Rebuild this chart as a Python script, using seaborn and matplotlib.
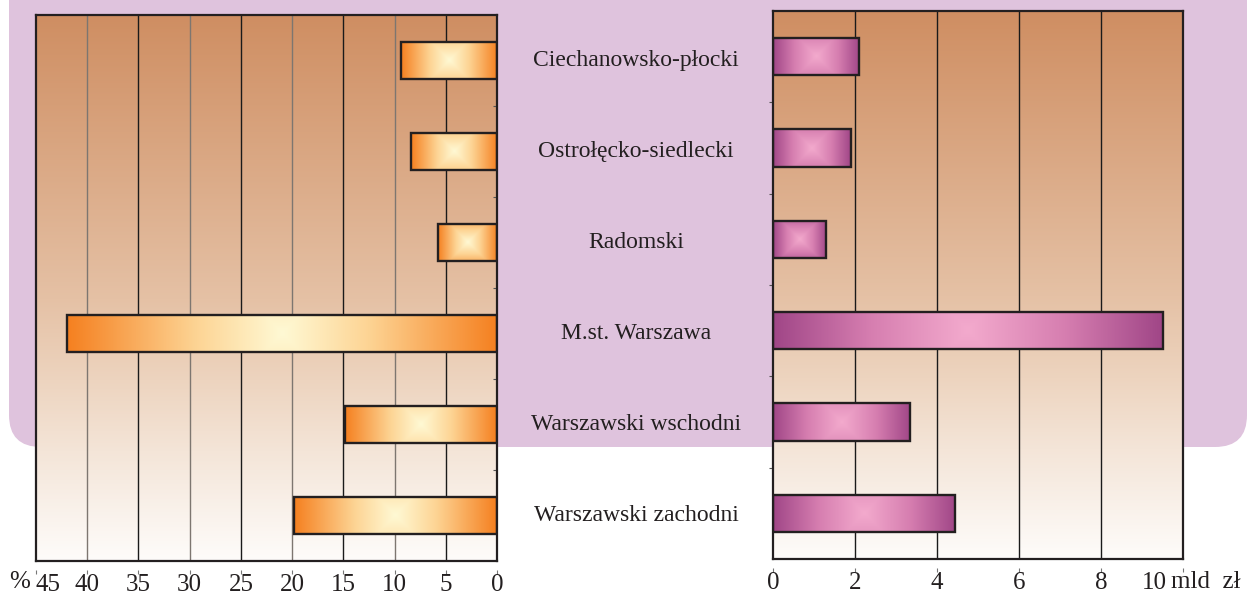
import numpy as np
import pandas as pd
import matplotlib
matplotlib.use("Agg")
import matplotlib.pyplot as plt
import matplotlib.transforms as mtrans
import seaborn as sns
from matplotlib.patches import FancyBboxPatch
from matplotlib.colors import LinearSegmentedColormap

# ---------------- data ----------------
regions = ["Ciechanowsko-płocki", "Ostrołęcko-siedlecki", "Radomski",
           "M.st. Warszawa", "Warszawski wschodni", "Warszawski zachodni"]
share_pct = [9.4, 8.4, 5.8, 42.0, 14.8, 19.8]
value_bln = [2.1, 1.9, 1.3, 9.5, 3.35, 4.45]
left_ticks = [45, 40, 35, 30, 25, 20, 15, 10, 5, 0]
right_ticks = [0, 2, 4, 6, 8, 10]
left_unit = "%"
right_unit = "mld  zł"

df = pd.DataFrame({"region": regions, "pct": share_pct, "bln": value_bln})

sns.set_theme(style="white")
plt.rcParams["font.family"] = ["Liberation Serif", "DejaVu Serif"]

W, H = 1247, 595
fig = plt.figure(figsize=(W / 100, H / 100), dpi=100)

# background lavender rounded panel
bg = fig.add_axes([0, 0, 1, 1], zorder=-5)
bg.set_xlim(0, W)
bg.set_ylim(H, 0)
bg.axis("off")
bg.add_patch(FancyBboxPatch((9, -80), W - 9, 447 + 80,
                            boxstyle="round,pad=0,rounding_size=32",
                            fc="#dfc3dd", ec="none"))


def fax(x0, y0, x1, y1):
    return fig.add_axes([x0 / W, 1 - y1 / H, (x1 - x0) / W, (y1 - y0) / H])


axL = fax(36, 15, 497, 561)
axR = fax(773, 11, 1183, 559)

bgcmap = LinearSegmentedColormap.from_list(
    "bgc",
    [(0.0, (207/255, 142/255, 98/255)),
     (0.52, (229/255, 193/255, 165/255)),
     (0.67, (237/255, 212/255, 191/255)),
     (0.80, (244/255, 229/255, 216/255)),
     (1.0, (254/255, 252/255, 250/255))])

orange = LinearSegmentedColormap.from_list(
    "or", [(0.0, (255/255, 249/255, 212/255)),
           (0.4, (253/255, 212/255, 148/255)),
           (1.0, (245/255, 128/255, 32/255))])
pink = LinearSegmentedColormap.from_list(
    "pk", [(0.0, (243/255, 170/255, 205/255)),
           (0.5, (214/255, 126/255, 176/255)),
           (1.0, (160/255, 70/255, 135/255))])


def style_axes(ax, data_col, xlim, ticks, cmap, gridcolors):
    sns.barplot(data=df, x=data_col, y="region", orient="h", ax=ax,
                width=0.41, color="white", edgecolor="#231f20",
                linewidth=1.7, zorder=3)
    ax.set_xlim(*xlim)
    ax.set_ylim(5.5, -0.5)
    # axes background gradient
    g = np.linspace(0, 1, 256).reshape(-1, 1)
    ax.imshow(g, cmap=bgcmap, extent=(0, 1, 0, 1), transform=ax.transAxes,
              aspect="auto", origin="upper", zorder=0)
    ax.set_xlim(*xlim)
    ax.set_ylim(5.5, -0.5)
    # gradient fill of bars
    for p in list(ax.patches):
        if p.get_height() == 0 or p.get_width() == 0:
            continue
        x0, y0 = p.get_x(), p.get_y()
        w, h = p.get_width(), p.get_height()
        c0 = ax.transData.transform((x0, y0))
        c1 = ax.transData.transform((x0 + w, y0 + h))
        wpx, hpx = abs(c1[0] - c0[0]), abs(c1[1] - c0[1])
        nx, ny = 400, 60
        u = np.linspace(-1, 1, nx)[None, :]
        v = np.linspace(-1, 1, ny)[:, None] * (hpx / wpx)
        t = np.clip(np.maximum(np.abs(u), np.abs(v)), 0, 1)
        img = cmap(t)
        im = ax.imshow(img, extent=(x0, x0 + w, y0 + h, y0), aspect="auto",
                       zorder=3.5, interpolation="bilinear")
        im.set_clip_path(p)
        p.set_facecolor("none")
        p.set_zorder(4)
    ax.set_xlim(*xlim)
    ax.set_ylim(5.5, -0.5)
    ax.set_xlabel("")
    ax.set_ylabel("")
    for s in ax.spines.values():
        s.set_visible(True)
        s.set_color("#231f20")
        s.set_linewidth(1.6)
        s.set_zorder(6)
    ax.set_xticks(ticks)
    ax.grid(axis="x", linewidth=1.0, zorder=1)
    for gl, col in zip(ax.xaxis.get_gridlines(), gridcolors):
        gl.set_color(col)
    ax.set_axisbelow(True)
    ax.tick_params(axis="x", length=0, labelbottom=False)
    ax.set_yticks([0.5, 1.5, 2.5, 3.5, 4.5])
    ax.set_yticklabels([])


gcL = ["none", "#7d7670", "#1a1a1a", "#7d7670", "#1a1a1a",
       "#7d7670", "#1a1a1a", "#7d7670", "#1a1a1a", "none"]
gcR = ["none", "#1a1a1a", "#1a1a1a", "#1a1a1a", "#1a1a1a", "none"]
style_axes(axL, "pct", (45, 0), left_ticks, orange, gcL)
style_axes(axR, "bln", (0, 10), right_ticks, pink, gcR)

axL.yaxis.tick_right()
axL.tick_params(axis="y", direction="in", length=3, width=0.8,
                color="#555555", right=True, left=False)
axR.tick_params(axis="y", direction="out", length=3, width=0.8,
                color="#555555", left=True)

FS_TICK = 18
FS_CAT = 17

secs = {}
for ax, ticks, off in ((axL, left_ticks, 9 / 546), (axR, right_ticks, 9 / 548)):
    sec = ax.secondary_xaxis(-off)
    sec.set_xticks(ticks)
    sec.set_xticklabels([str(t) for t in ticks])
    sec.spines["bottom"].set_visible(False)
    sec.tick_params(axis="x", direction="out", length=3, width=0.8,
                    color="#777777", pad=0, labelsize=FS_TICK, labelcolor="#231f20")
    secs[ax] = sec

# first left label sits to the right of its tick (room for the % sign)
secs[axL].get_xticklabels()[0].set_horizontalalignment("left")
# last right label sits to the left of the frame end
lab10 = secs[axR].get_xticklabels()[-1]
lab10.set_horizontalalignment("right")
lab10.set_transform(lab10.get_transform() +
                    mtrans.ScaledTranslation(-0.16, 0, fig.dpi_scale_trans))

fig.text(9 / W, 1 - 582 / H, left_unit, fontsize=FS_TICK, color="#231f20",
         ha="left", va="center")
fig.text(1171 / W, 1 - 582 / H, right_unit, fontsize=FS_TICK, color="#231f20",
         ha="left", va="center")

# category labels in the middle
tr = mtrans.blended_transform_factory(fig.transFigure, axL.transData)
for i, r in enumerate(regions):
    fig.text(636 / W, i, r, transform=tr, fontsize=FS_CAT, color="#231f20",
             ha="center", va="center")

fig.savefig("out.png", dpi=100)
